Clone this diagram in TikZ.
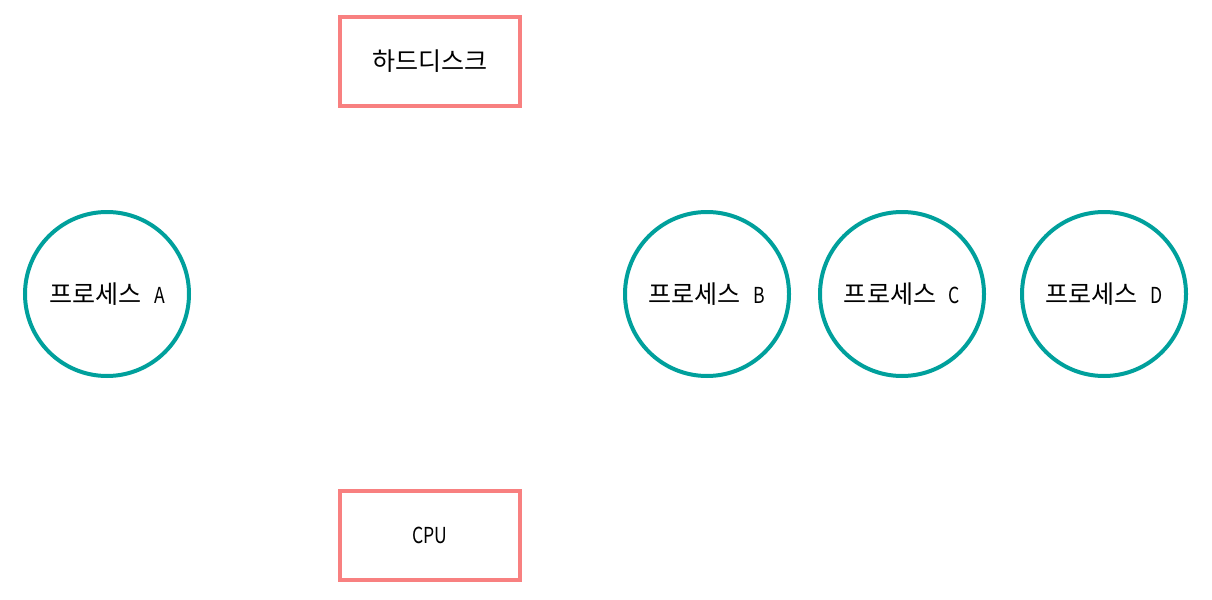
\documentclass[tikz,border=0pt]{standalone}
\usepackage{graphicx}
\usepackage{fontspec}
\setmainfont{Noto Sans CJK KR}
\definecolor{boxred}{RGB}{248,128,128}
\definecolor{procteal}{RGB}{0,160,156}
\newcommand\latn[1]{\scalebox{0.8}[1]{\fontsize{16.5pt}{18pt}\selectfont #1}}
\newcommand\plabel[1]{프로세스\hspace{9.5pt}\latn{#1}}
\begin{document}
\begin{tikzpicture}[x=0.75pt,y=-0.75pt,
  resbox/.style={draw=boxred,line width=3pt,minimum width=135pt,minimum height=66.75pt,inner sep=0pt,font=\fontsize{18.8pt}{22pt}\selectfont},
  proc/.style={circle,draw=procteal,line width=3pt,minimum size=123pt,inner sep=0pt,font=\fontsize{18.8pt}{22pt}\selectfont}]
\useasboundingbox (0,0) rectangle (1212,599);
\node[resbox] (hdd) at (430,61.5) {하드디스크};
\node[resbox] (cpu) at (430,535.5) {\latn{CPU}};
\node[proc] (pA) at (107,294) {\plabel{A}};
\node[proc] (pB) at (707,294) {\plabel{B}};
\node[proc] (pC) at (902,294) {\plabel{C}};
\node[proc] (pD) at (1104,294) {\plabel{D}};
\end{tikzpicture}
\end{document}
